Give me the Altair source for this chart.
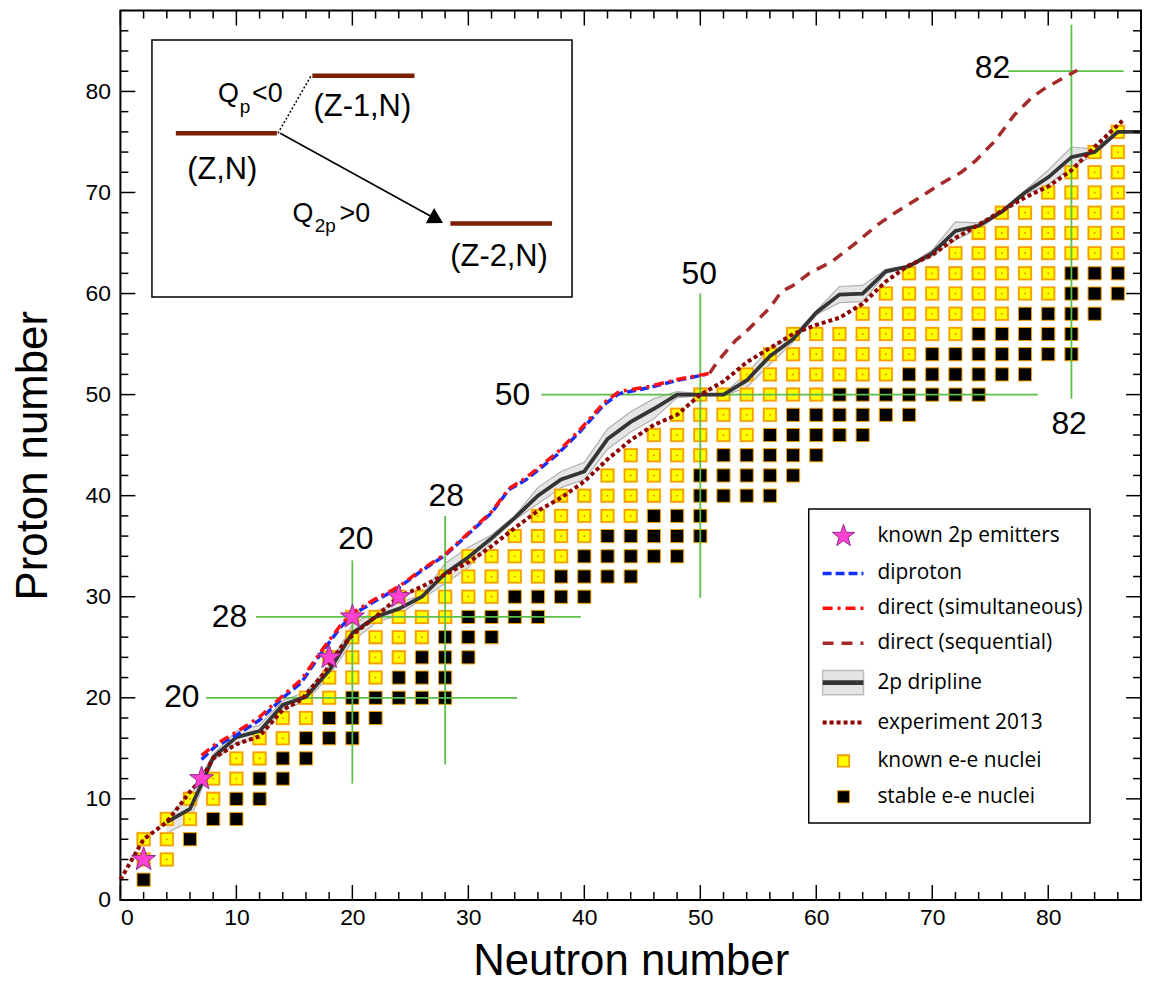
import altair as alt
import pandas as pd

W, H = 1026, 894

# ---------------- nuclear chart: even-Z rows ----------------
row_Z        = [2, 4, 6, 8, 10, 12, 14, 16, 18, 20, 22, 24, 26, 28, 30, 32, 34, 36, 38, 40, 42, 44, 46, 48, 50, 52, 54, 56, 58, 60, 62, 64, 66, 68, 70, 72, 74, 76]
known_first  = [0, 2, 2, 4, 6, 8, 10, 12, 14, 16, 18, 18, 20, 20, 24, 28, 30, 34, 36, 38, 42, 44, 46, 48, 50, 54, 56, 58, 64, 66, 68, 72, 74, 76, 80, 82, 84, 86]
known_last   = [0, 4, 4, 6, 8, 10, 12, 14, 16, 18, 22, 24, 26, 28, 32, 36, 38, 40, 44, 48, 48, 50, 54, 56, 60, 66, 68, 72, 76, 80, 80, 86, 86, 86, 86, 86, 86, 86]
stable_first = [2, 0, 6, 8, 10, 12, 14, 16, 18, 20, 24, 26, 28, 30, 34, 38, 40, 42, 46, 50, 50, 52, 56, 58, 62, 68, 70, 74, 78, 82, 82, 0, 0, 0, 0, 0, 0, 0]
stable_last  = [2, 0, 6, 10, 12, 14, 16, 20, 22, 28, 28, 30, 32, 36, 40, 44, 48, 50, 50, 56, 58, 60, 64, 68, 74, 78, 82, 82, 84, 86, 86, 0, 0, 0, 0, 0, 0, 0]

# known 2p emitters
star_N = [2, 7, 18, 20, 24]
star_Z = [4, 12, 24, 28, 30]

# 2p dripline with uncertainty band
drip_N  = [4, 6, 7, 8, 10, 12, 14, 16, 18, 20, 22, 24, 26, 28, 30, 32, 34, 36, 38, 40, 42, 44, 46, 48, 50, 52, 54, 56, 58, 60, 62, 64, 66, 68, 70, 72, 74, 76, 78, 80, 82, 84, 86, 88]
drip_Z  = [7.7, 9.0, 11.5, 14.1, 16.1, 16.7, 19.3, 20.1, 22.7, 26.4, 28.0, 28.8, 30.0, 32.3, 33.9, 35.8, 37.8, 40.0, 41.6, 42.4, 45.6, 47.3, 48.6, 50.0, 50.0, 50.0, 51.4, 53.8, 55.5, 58.1, 59.9, 60.0, 62.2, 62.7, 64.0, 66.2, 66.7, 68.1, 70.0, 71.5, 73.5, 74.0, 76.0, 76.0]
drip_lo = [6.6, 7.8, 11.0, 13.8, 15.5, 16.0, 18.9, 19.6, 22.2, 25.6, 27.4, 28.2, 29.8, 31.3, 32.9, 35.5, 37.6, 39.2, 40.8, 41.6, 44.6, 46.3, 47.6, 49.7, 49.9, 49.9, 50.7, 53.0, 55.2, 57.9, 59.1, 59.2, 62.0, 62.6, 63.7, 65.3, 66.4, 68.0, 69.8, 70.8, 72.5, 73.7, 75.9, 76.0]
drip_hi = [8.2, 10.2, 12.3, 14.4, 16.7, 17.3, 19.7, 20.6, 23.2, 27.2, 28.6, 29.4, 30.2, 33.3, 34.9, 36.1, 38.0, 40.8, 42.4, 43.3, 46.6, 48.3, 49.6, 50.3, 50.1, 50.1, 52.1, 54.6, 55.8, 58.3, 60.7, 60.8, 62.4, 62.8, 64.3, 67.1, 67.0, 68.2, 70.2, 72.2, 74.5, 74.3, 76.1, 76.0]

# experiment 2013
exp_N = [0, 2, 4, 6, 7, 8, 10, 12, 14, 15.6, 17.6, 19, 20.2, 22, 24, 26, 28, 30, 32, 34, 36, 38, 40, 42, 44, 46, 48, 50, 52, 54, 56, 58, 60, 62, 64, 66, 68, 70, 72, 74, 76, 78, 80, 82, 84, 86.4]
exp_Z = [2, 6, 7.7, 10.7, 12, 14, 15.4, 16.2, 18.8, 19.8, 22.5, 25, 26.4, 28, 30, 31, 32.2, 33.4, 35, 36.8, 38.5, 39.8, 41.4, 43.6, 45.5, 47, 48, 50, 51.3, 53.2, 54.6, 56, 56.9, 57.6, 59, 61.2, 62.8, 63.8, 65.5, 66.8, 68.2, 69.5, 70.6, 72.2, 74.5, 77.1]

# diproton
dip_N = [7, 8.2, 10, 12, 14, 15.6, 17.3, 19, 20, 22, 24, 26, 28, 30, 32, 33.5, 35, 37.6, 39.6, 41.7, 43, 45.6, 48, 50.5]
dip_Z = [13.9, 15.2, 16.3, 17.8, 20.0, 21.5, 24.4, 27.0, 28.2, 29.6, 30.9, 32.6, 34.1, 36.2, 38.3, 40.6, 41.6, 44.0, 46.3, 49.0, 50.1, 50.7, 51.4, 52.0]

# direct (simultaneous)
sim_N = [7, 8.2, 10, 12, 14, 15.6, 17.3, 19, 20, 22, 24, 26, 28, 30, 32, 33.5, 35, 37.6, 39.6, 41.7, 43, 45.6, 48, 50.8]
sim_Z = [14.3, 15.4, 16.6, 18.1, 20.2, 21.8, 24.6, 27.2, 28.4, 29.8, 31.0, 32.7, 34.2, 36.3, 38.4, 40.7, 41.8, 44.2, 46.5, 49.2, 50.3, 50.8, 51.5, 52.1]

# direct (sequential)
seq_N = [50.8, 51.5, 53, 54, 56, 57, 58, 59.4, 61.4, 63.4, 65.4, 66.8, 68.5, 70.8, 72.5, 73.7, 75.4, 77.1, 78.6, 79.7, 81.1, 82.5]
seq_Z = [52.1, 53.3, 55.3, 56.3, 58.6, 60.2, 60.8, 62.0, 63.2, 65.0, 66.9, 68.0, 69.2, 70.9, 72.0, 73.1, 75.1, 77.7, 79.4, 80.3, 81.2, 82.1]

# magic-number guide lines
magic_N1 = [20, 28, 50, 82, 7.4, 11.7, 36.3, 76.5]
magic_N2 = [20, 28, 50, 82, 34.2, 39.7, 79.1, 86.5]
magic_Z1 = [11.5, 13.4, 29.9, 49.6, 20, 28, 50, 82]
magic_Z2 = [33.6, 38.0, 60.0, 86.6, 20, 28, 50, 82]
magic_label = ["20", "20", "28", "28", "50", "50", "82", "82"]
magic_lab_N = [20.3, 5.3, 28.1, 9.4, 49.9, 33.8, 75.2, 81.8]
magic_lab_Z = [35.7, 20.1, 40.0, 28.0, 61.9, 50.0, 82.3, 47.1]

# inset schematic
inset_box = [2.72, 38.94, 59.67, 85.08]
level_N1 = [4.78, 16.55, 28.45]
level_N2 = [13.49, 25.36, 37.22]
level_Z = [75.86, 81.55, 66.93]
level_txt = ["(Z,N)", "(Z-1,N)", "(Z-2,N)"]
level_txt_N = [8.78, 20.86, 32.65]
level_txt_Z = [72.25, 78.46, 63.59]

# legend
legend_labels = ["known 2p emitters", "diproton", "direct (simultaneous)", "direct (sequential)",
                 "2p dripline", "experiment 2013", "known e-e nuclei", "stable e-e nuclei"]
legend_Z = [36.0, 32.3, 28.85, 25.4, 21.5, 17.55, 13.75, 10.2]
legend_box = [59.35, 83.6, 7.6, 38.67]

major_ticks = [0, 10, 20, 30, 40, 50, 60, 70, 80]
minor_ticks = [2, 4, 6, 8, 12, 14, 16, 18, 22, 24, 26, 28, 32, 34, 36, 38, 42, 44, 46, 48,
               52, 54, 56, 58, 62, 64, 66, 68, 72, 74, 76, 78, 82, 84, 86]

STAR = ("M0,-1L0.235,-0.324L0.951,-0.309L0.38,0.124L0.588,0.809L0,0.4"
        "L-0.588,0.809L-0.38,0.124L-0.951,-0.309L-0.235,-0.324Z")

# ---------------- tables ----------------
yN, yZ, bN, bZ = [], [], [], []
for z, a, b, c, d in zip(row_Z, known_first, known_last, stable_first, stable_last):
    if a:
        for n in range(a, b + 1, 2):
            yN.append(n); yZ.append(z)
    if c:
        for n in range(c, d + 1, 2):
            bN.append(n); bZ.append(z)
known_df = pd.DataFrame({"N": yN, "Z": yZ})
stable_df = pd.DataFrame({"N": bN, "Z": bZ})
star_df = pd.DataFrame({"N": star_N, "Z": star_Z})
drip_df = pd.DataFrame({"N": drip_N, "Z": drip_Z, "lo": drip_lo, "hi": drip_hi})
exp_df = pd.DataFrame({"N": exp_N, "Z": exp_Z, "o": range(len(exp_N))})
dip_df = pd.DataFrame({"N": dip_N, "Z": dip_Z, "o": range(len(dip_N))})
sim_df = pd.DataFrame({"N": sim_N, "Z": sim_Z, "o": range(len(sim_N))})
seq_df = pd.DataFrame({"N": seq_N, "Z": seq_Z, "o": range(len(seq_N))})
magic_df = pd.DataFrame({"N": magic_N1, "N2": magic_N2, "Z": magic_Z1, "Z2": magic_Z2})
mlab_df = pd.DataFrame({"N": magic_lab_N, "Z": magic_lab_Z, "t": magic_label})

xs = alt.Scale(domain=[0, 88], nice=False, zero=False)
ys = alt.Scale(domain=[0, 88], nice=False, zero=False)
FONT = "Liberation Sans"
xax = alt.Axis(values=major_ticks, title="Neutron number", ticks=False, domain=False, grid=False,
               orient="bottom",
               labelFont=FONT, labelFontSize=23, labelColor="black", labelPadding=7,
               titleFont=FONT, titleFontSize=44, titleFontWeight="normal", titleColor="black",
               titlePadding=10)
yax = alt.Axis(values=major_ticks, title="Proton number", ticks=False, domain=False, grid=False,
               orient="left",
               labelFont=FONT, labelFontSize=23, labelColor="black", labelPadding=10,
               titleFont=FONT, titleFontSize=44, titleFontWeight="normal", titleColor="black",
               titlePadding=30)


def X(f="N"):
    return alt.X(f"{f}:Q", scale=xs, axis=xax)


def Y(f="Z"):
    return alt.Y(f"{f}:Q", scale=ys, axis=yax)


layers = []

# band of the dripline
layers.append(alt.Chart(drip_df).mark_area(color="#cfcfcf", opacity=0.55).encode(x=X(), y=Y("lo"), y2="hi:Q"))
layers.append(alt.Chart(drip_df).mark_line(color="#b0b0b0", strokeWidth=1.2).encode(x=X(), y=Y("lo")))
layers.append(alt.Chart(drip_df).mark_line(color="#b0b0b0", strokeWidth=1.2).encode(x=X(), y=Y("hi")))

# squares (with a soft halo behind the known ones)
layers.append(alt.Chart(known_df).mark_square(size=230, color="#ffe6a0", opacity=0.7)
              .encode(x=X(), y=Y()))
layers.append(alt.Chart(known_df).mark_square(size=150, fill="#ffff00", stroke="#f5a000", strokeWidth=1.8, opacity=1)
              .encode(x=X(), y=Y()))
layers.append(alt.Chart(known_df).mark_circle(size=3, color="#f07000", opacity=1).encode(x=X(), y=Y()))
layers.append(alt.Chart(stable_df).mark_square(size=175, fill="black", stroke="#f5a000", strokeWidth=1, opacity=1)
              .encode(x=X(), y=Y()))

# magic lines
layers.append(alt.Chart(magic_df).mark_rule(color="#5cbf4a", strokeWidth=1.8)
              .encode(x=X(), x2="N2:Q", y=Y(), y2="Z2:Q"))

# dripline central
layers.append(alt.Chart(drip_df).mark_line(color="#353535", strokeWidth=3.8).encode(x=X(), y=Y()))

# experiment 2013
layers.append(alt.Chart(exp_df).mark_line(color="#8b0000", strokeWidth=4, strokeDash=[4, 3])
              .encode(x=X(), y=Y(), order="o:Q"))
# diproton
layers.append(alt.Chart(dip_df).mark_line(color="#1030ff", strokeWidth=3.5, strokeDash=[9, 4])
              .encode(x=X(), y=Y(), order="o:Q"))
# direct simultaneous
layers.append(alt.Chart(sim_df).mark_line(color="#ff1010", strokeWidth=3.5, strokeDash=[10, 5, 3, 5])
              .encode(x=X(), y=Y(), order="o:Q"))
# direct sequential
layers.append(alt.Chart(seq_df).mark_line(color="#a52a2a", strokeWidth=3.5, strokeDash=[11, 8])
              .encode(x=X(), y=Y(), order="o:Q"))

# stars
layers.append(alt.Chart(star_df).mark_point(shape=STAR, size=640, filled=True, fill="#ff40d0",
                                            stroke="#8a2b8a", strokeWidth=1, opacity=1)
              .encode(x=X(), y=Y()))

# magic labels
layers.append(alt.Chart(mlab_df).mark_text(font=FONT, fontSize=32, align="center", baseline="middle", color="black")
              .encode(x=X(), y=Y(), text="t:N"))

# ---------------- inset ----------------
ibox = pd.DataFrame({"N": [inset_box[0]], "N2": [inset_box[1]], "Z": [inset_box[2]], "Z2": [inset_box[3]]})
layers.append(alt.Chart(ibox).mark_rect(fill="white", stroke="black", strokeWidth=1.5)
              .encode(x=X(), x2="N2:Q", y=Y(), y2="Z2:Q"))
lev_df = pd.DataFrame({"N": level_N1, "N2": level_N2, "Z": level_Z})
layers.append(alt.Chart(lev_df).mark_rule(color="#7b2100", strokeWidth=4.5).encode(x=X(), x2="N2:Q", y=Y()))
dot_df = pd.DataFrame({"N": [13.58], "N2": [16.49], "Z": [75.86], "Z2": [81.65]})
layers.append(alt.Chart(dot_df).mark_rule(color="black", strokeWidth=1.5, strokeDash=[2, 2])
              .encode(x=X(), x2="N2:Q", y=Y(), y2="Z2:Q"))
arr_df = pd.DataFrame({"N": [13.78], "N2": [27.0], "Z": [75.86], "Z2": [67.5]})
layers.append(alt.Chart(arr_df).mark_rule(color="black", strokeWidth=1.6)
              .encode(x=X(), x2="N2:Q", y=Y(), y2="Z2:Q"))
head_df = pd.DataFrame({"N": [27.25], "Z": [67.35]})
layers.append(alt.Chart(head_df).mark_point(shape="triangle-right", size=300, filled=True, color="black",
                                            angle=29, opacity=1).encode(x=X(), y=Y()))
ltx_df = pd.DataFrame({"N": level_txt_N, "Z": level_txt_Z, "t": level_txt})
layers.append(alt.Chart(ltx_df).mark_text(font=FONT, fontSize=31, align="center", baseline="middle", color="black")
              .encode(x=X(), y=Y(), text="t:N"))
q_right = pd.DataFrame({"N": [10.21, 16.64], "Z": [79.7, 67.85], "t": ["Q", "Q"]})
layers.append(alt.Chart(q_right).mark_text(font=FONT, fontSize=27, align="right", baseline="middle", color="black")
              .encode(x=X(), y=Y(), text="t:N"))
q_sub = pd.DataFrame({"N": [10.3, 16.75], "Z": [78.5, 66.7], "t": ["p", "2p"]})
layers.append(alt.Chart(q_sub).mark_text(font=FONT, fontSize=19, align="left", baseline="middle", color="black")
              .encode(x=X(), y=Y(), text="t:N"))
q_rel = pd.DataFrame({"N": [11.35, 18.9], "Z": [79.7, 67.85], "t": ["<0", ">0"]})
layers.append(alt.Chart(q_rel).mark_text(font=FONT, fontSize=27, align="left", baseline="middle", color="black")
              .encode(x=X(), y=Y(), text="t:N"))

# ---------------- legend ----------------
sx, lx1, lx2, tx = 62.35, 60.55, 64.07, 65.27
lbox = pd.DataFrame({"N": [legend_box[0]], "N2": [legend_box[1]], "Z": [legend_box[2]], "Z2": [legend_box[3]]})
layers.append(alt.Chart(lbox).mark_rect(fill="white", stroke="black", strokeWidth=1.5)
              .encode(x=X(), x2="N2:Q", y=Y(), y2="Z2:Q"))
layers.append(alt.Chart(pd.DataFrame({"N": [sx], "Z": [legend_Z[0]]}))
              .mark_point(shape=STAR, size=560, filled=True, fill="#ff40d0", stroke="#8a2b8a", strokeWidth=1, opacity=1)
              .encode(x=X(), y=Y()))


def leg_line(i, color, dash, width=3.5):
    d = pd.DataFrame({"N": [lx1], "N2": [lx2], "Z": [legend_Z[i]]})
    return alt.Chart(d).mark_rule(color=color, strokeWidth=width, strokeDash=dash).encode(x=X(), x2="N2:Q", y=Y())


layers.append(leg_line(1, "#1030ff", [9, 4]))
layers.append(leg_line(2, "#ff1010", [10, 5, 3, 5]))
layers.append(leg_line(3, "#a52a2a", [11, 8]))
dbox = pd.DataFrame({"N": [lx1], "N2": [lx2], "Z": [legend_Z[4] - 1.2], "Z2": [legend_Z[4] + 1.2]})
layers.append(alt.Chart(dbox).mark_rect(fill="#e4e4e4", stroke="#bdbdbd", strokeWidth=1.5)
              .encode(x=X(), x2="N2:Q", y=Y(), y2="Z2:Q"))
layers.append(leg_line(4, "#353535", [1, 0], width=5))
layers.append(leg_line(5, "#8b0000", [4, 3], width=4))
layers.append(alt.Chart(pd.DataFrame({"N": [sx], "Z": [legend_Z[6]]}))
              .mark_square(size=130, fill="#ffff00", stroke="#f5a000", strokeWidth=1.8, opacity=1)
              .encode(x=X(), y=Y()))
layers.append(alt.Chart(pd.DataFrame({"N": [sx], "Z": [legend_Z[7]]}))
              .mark_square(size=150, fill="black", stroke="#f5a000", strokeWidth=1, opacity=1)
              .encode(x=X(), y=Y()))
ltext = pd.DataFrame({"N": [tx] * len(legend_labels), "Z": legend_Z, "t": legend_labels})
layers.append(alt.Chart(ltext).mark_text(font="Open Sans", fontSize=21, align="left", baseline="middle", color="black")
              .encode(x=X(), y=Y(), text="t:N"))

# ---------------- inward ticks on all four sides ----------------
maj = pd.DataFrame({"N": major_ticks, "Z": major_ticks})
mnr = pd.DataFrame({"N": minor_ticks, "Z": minor_ticks})
for df, L in ((maj, 15), (mnr, 8)):
    layers.append(alt.Chart(df).mark_rule(color="black", strokeWidth=1.5)
                  .encode(x=X(), y=alt.value(H), y2=alt.value(H - L)))
    layers.append(alt.Chart(df).mark_rule(color="black", strokeWidth=1.5)
                  .encode(x=X(), y=alt.value(0), y2=alt.value(L)))
    layers.append(alt.Chart(df).mark_rule(color="black", strokeWidth=1.5)
                  .encode(y=Y(), x=alt.value(0), x2=alt.value(L)))
    layers.append(alt.Chart(df).mark_rule(color="black", strokeWidth=1.5)
                  .encode(y=Y(), x=alt.value(W), x2=alt.value(W - L)))

chart = alt.layer(*layers).properties(
    width=W, height=H,
    padding={"left": 113, "top": 0, "right": 3, "bottom": 92},
    autosize=alt.AutoSizeParams(type="none"),
).configure_view(stroke="black", strokeWidth=2)

chart.save("out.html", embed_options={"renderer": "svg", "actions": False})
